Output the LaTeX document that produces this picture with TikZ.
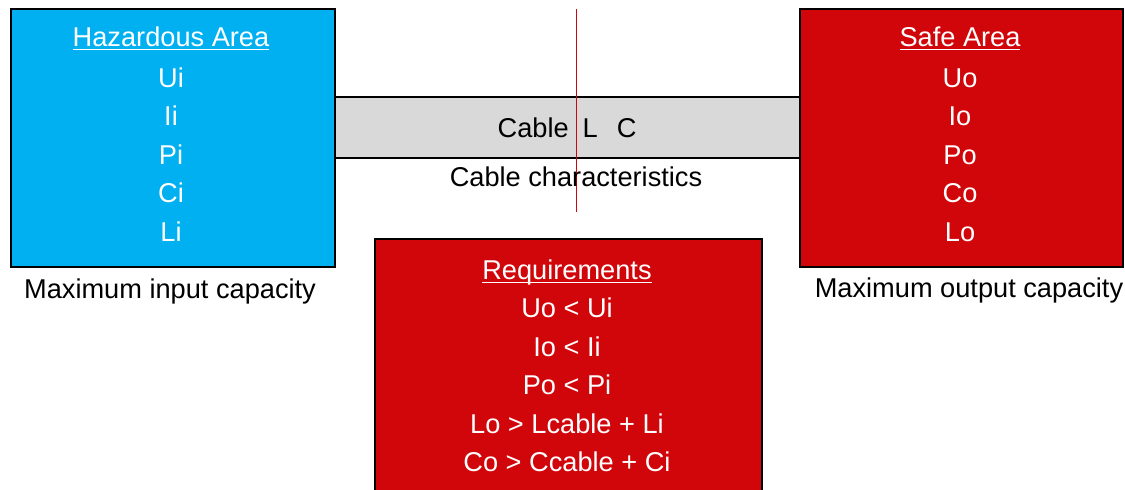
\documentclass[tikz,border=0pt]{standalone}
\usepackage{fontspec}
\setmainfont{Liberation Sans}
\definecolor{hazblue}{RGB}{0,176,240}
\definecolor{safered}{RGB}{208,6,11}
\definecolor{cablegray}{RGB}{217,217,217}
\newcommand{\ul}[1]{\setbox0=\hbox{#1}\rlap{\rule[-3.3pt]{\wd0}{1.1pt}}\box0}
\begin{document}
\begin{tikzpicture}[x=1pt,y=-1pt,
  areabox/.style={draw=black,line width=1.6pt,inner sep=0pt,rectangle},
  wtxt/.style={text=white,inner sep=0pt,anchor=base,font=\fontsize{27.2}{30}\selectfont},
  btxt/.style={text=black,inner sep=0pt,anchor=base,font=\fontsize{27.2}{30}\selectfont}]
\useasboundingbox (0,0) rectangle (1125,490);
% cable
\node[areabox,fill=cablegray,minimum width=465pt,minimum height=61pt] (cable) at (567.5,127.5) {};
% boxes
\node[areabox,fill=hazblue,minimum width=324pt,minimum height=258pt] (haz) at (173,138) {};
\node[areabox,fill=safered,minimum width=323pt,minimum height=258pt] (safe) at (961.5,138) {};
\node[areabox,fill=safered,minimum width=387pt,minimum height=270pt] (req) at (568.5,374) {};
% red separator line
\coordinate (rtop) at (576.5,9);
\coordinate (rbot) at (576.5,212);
\draw[safered,line width=1.3pt] (rtop) -- (rbot);
% hazardous texts
\node[wtxt] (h0) at (171,46.7) {\ul{Hazardous Area}};
\node[wtxt] (h1) at (171,87.3) {Ui};
\node[wtxt] (h2) at (171,125.8) {Ii};
\node[wtxt] (h3) at (171,164.3) {Pi};
\node[wtxt] (h4) at (171,202.8) {Ci};
\node[wtxt] (h5) at (171,241.3) {Li};
% safe texts
\node[wtxt] (s0) at (960,46.7) {\ul{Safe Area}};
\node[wtxt] (s1) at (960,87.3) {Uo};
\node[wtxt] (s2) at (960,125.8) {Io};
\node[wtxt] (s3) at (960,164.3) {Po};
\node[wtxt] (s4) at (960,202.8) {Co};
\node[wtxt] (s5) at (960,241.3) {Lo};
% requirements
\node[wtxt] (r0) at (567,279.3) {\ul{Requirements}};
\node[wtxt] (r1) at (567,317.5) {Uo < Ui};
\node[wtxt] (r2) at (567,356) {Io < Ii};
\node[wtxt] (r3) at (567,394.5) {Po < Pi};
\node[wtxt] (r4) at (567,433) {Lo > Lcable + Li};
\node[wtxt] (r5) at (567,471) {Co > Ccable + Ci};
% black labels
\node[btxt,anchor=base west] (cabletxt) at (497.5,137) {Cable\hspace{14pt}L\hspace{19pt}C};
\node[btxt] (cablechar) at (576,186) {Cable characteristics};
\node[btxt] (maxin) at (170,298) {Maximum input capacity};
\node[btxt] (maxout) at (969,297) {Maximum output capacity};
\end{tikzpicture}
\end{document}
